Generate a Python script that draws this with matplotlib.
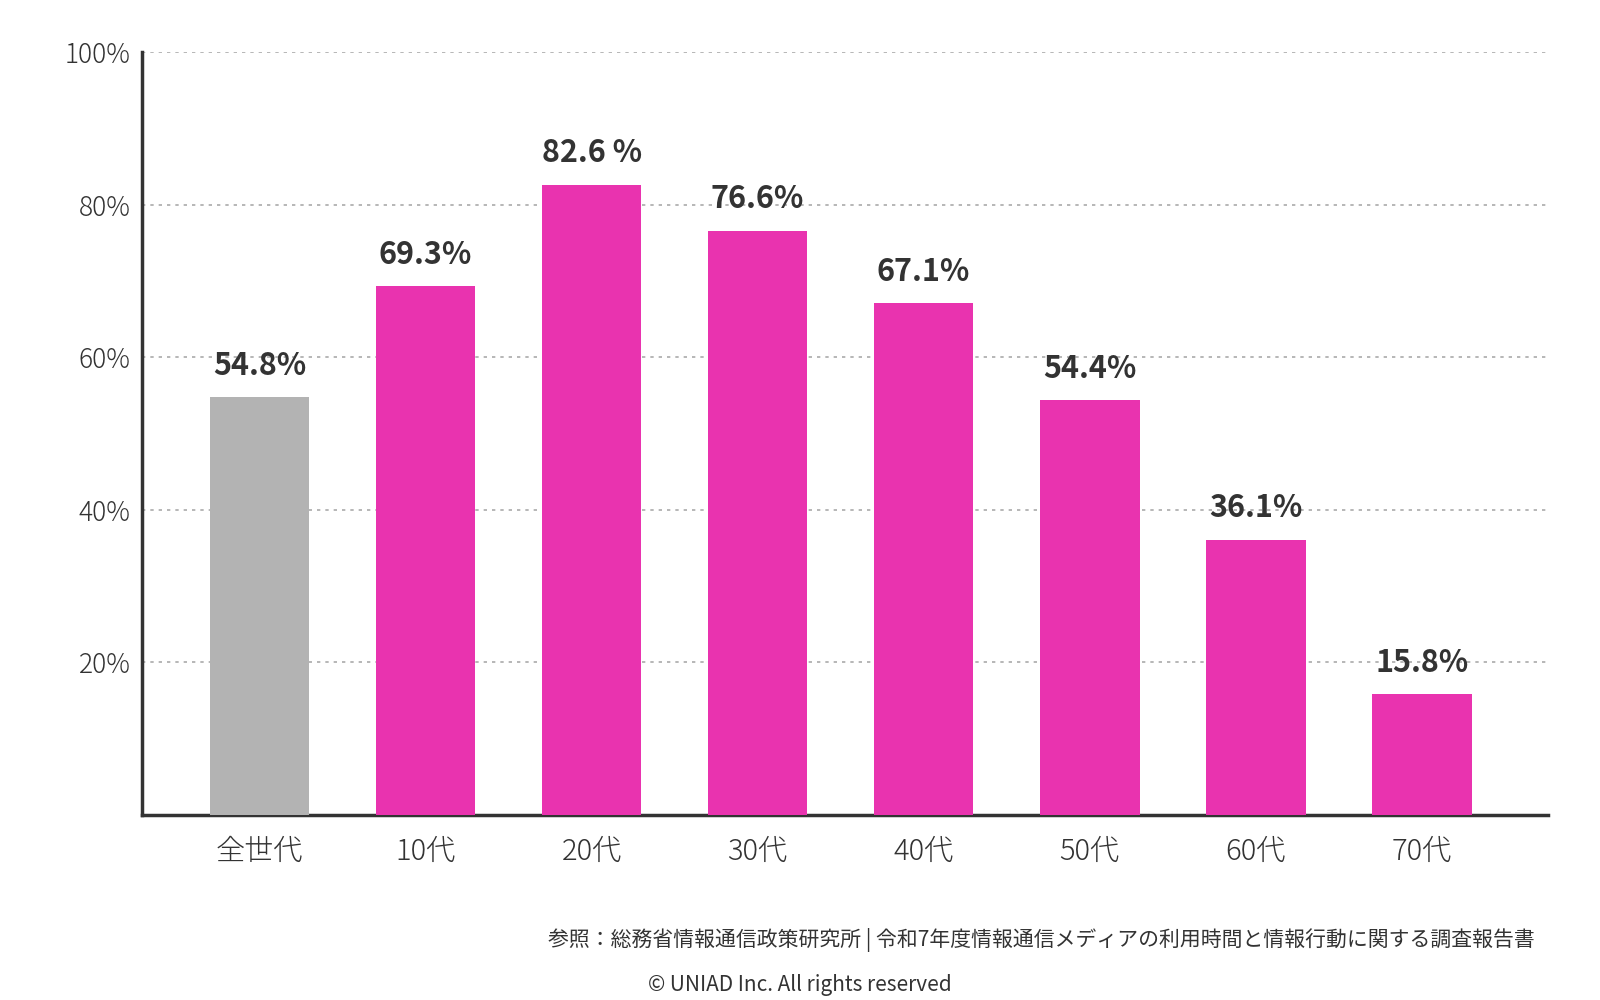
import matplotlib
matplotlib.use("Agg")
import matplotlib.pyplot as plt

plt.rcParams['font.family'] = ['Noto Sans CJK JP', 'DejaVu Sans']

categories = ['全世代', '10代', '20代', '30代', '40代', '50代', '60代', '70代']
values = [54.8, 69.3, 82.6, 76.6, 67.1, 54.4, 36.1, 15.8]
value_labels = ['54.8%', '69.3%', '82.6 %', '76.6%', '67.1%', '54.4%', '36.1%', '15.8%']
y_ticks = [20, 40, 60, 80, 100]
y_tick_labels = ['20%', '40%', '60%', '80%', '100%']

pink = '#E933AF'
grey = '#B3B3B3'
text_col = '#333333'
colors = [grey] + [pink] * (len(categories) - 1)

fig = plt.figure(figsize=(16, 10), dpi=100)
ax = fig.add_axes([0.0885, 0.185, 0.8790, 0.763])

x = list(range(len(categories)))
ax.bar(x, values, width=0.6, color=colors, zorder=3)

for xi, v, lab in zip(x, values, value_labels):
    ax.annotate(lab, (xi, v), xytext=(0, 11), textcoords='offset points',
                ha='center', va='bottom', fontsize=22, fontweight='bold',
                color=text_col)

ax.set_xlim(-0.71, 7.76)
ax.set_ylim(0, 100)
ax.set_yticks(y_ticks)
ax.set_yticklabels(y_tick_labels, fontsize=19, color=text_col, fontweight='light')
ax.set_xticks(x)
ax.set_xticklabels(categories, fontsize=21, color=text_col, fontweight='light')
ax.tick_params(axis='both', length=0)
ax.tick_params(axis='x', pad=15)
ax.tick_params(axis='y', pad=8)

ax.yaxis.grid(True, linestyle=(0, (2, 3)), color='#AAAAAA', linewidth=1.2, zorder=0)
ax.set_axisbelow(True)

for s in ['top', 'right']:
    ax.spines[s].set_visible(False)
for s in ['left', 'bottom']:
    ax.spines[s].set_color(text_col)
    ax.spines[s].set_linewidth(2.5)

fig.text(0.959, 0.06, '参照：総務省情報通信政策研究所 | 令和7年度情報通信メディアの利用時間と情報行動に関する調査報告書',
         ha='right', va='center', fontsize=15, color=text_col)
fig.text(0.5, 0.004, '© UNIAD Inc. All rights reserved',
         ha='center', va='bottom', fontsize=15, color=text_col)

fig.savefig('out.png', dpi=100)
